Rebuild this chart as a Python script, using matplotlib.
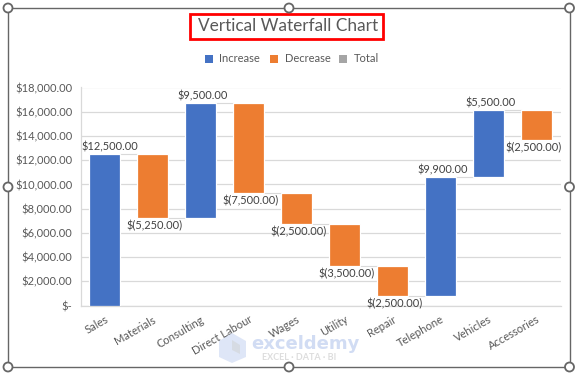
import matplotlib
matplotlib.use("Agg")
import matplotlib.pyplot as plt
from matplotlib.patches import Rectangle, Circle, Polygon
from matplotlib.ticker import FuncFormatter

categories = ["Sales", "Materials", "Consulting", "Direct Labour", "Wages",
              "Utility", "Repair", "Telephone", "Vehicles", "Accessories"]
changes = [12500, -5250, 9500, -7500, -2500, -3500, -2500, 9900, 5500, -2500]
y_ticks = [0, 2000, 4000, 6000, 8000, 10000, 12000, 14000, 16000, 18000]
BLUE, ORANGE, GREY = "#4472C4", "#ED7D31", "#A5A5A5"
TXT = "#595959"
plt.rcParams["font.family"] = ["Lato", "DejaVu Sans"]

W, H = 580, 379
fig = plt.figure(figsize=(W / 100, H / 100), dpi=100, facecolor="white")

# overlay in pixel coordinates for selection frame etc.
bg = fig.add_axes([0, 0, 1, 1], zorder=0)
bg.set_xlim(0, W); bg.set_ylim(H, 0); bg.axis("off")

ax = fig.add_axes([80.5 / W, 1 - 305.5 / H, 480 / W, 218 / H], zorder=1)
ax.patch.set_alpha(0)
ax.set_xlim(-0.5, 9.5)
ax.set_ylim(0, 18000)

# horizontal label shift in points (first and last label sit off-centre)
label_shift = {0: 3.6, 9: -2.2}

running = 0
levels = []
for i, (cat, c) in enumerate(zip(categories, changes)):
    start, end = running, running + c
    low, high = min(start, end), max(start, end)
    ax.bar(i, high - low, bottom=low, width=0.665, color=BLUE if c > 0 else ORANGE,
           edgecolor="white", linewidth=0.9, zorder=3)
    amount = f"${c:,.2f}" if c > 0 else f"$({-c:,.2f})"
    dx = label_shift.get(i, 1.4)
    if c > 0:
        ax.annotate(amount, (i, high), xytext=(dx, 1), textcoords="offset points",
                    ha="center", va="bottom", fontsize=7.9, color="#404040", zorder=4)
    else:
        ax.annotate(amount, (i, low), xytext=(dx, -1.5), textcoords="offset points",
                    ha="center", va="top", fontsize=7.9, color="#404040", zorder=4)
    levels.append(end)
    running = end

for i, lv in enumerate(levels[:-1]):
    ax.plot([i + 0.33, i + 1 - 0.33], [lv, lv], color="#D9D9D9", lw=0.8, zorder=2)

ax.set_yticks(y_ticks)
ax.yaxis.set_major_formatter(FuncFormatter(lambda v, _: "$-" if v == 0 else f"${v:,.2f}"))
ax.set_xticks(range(len(categories)))
ax.set_xticklabels(categories, rotation=30, ha="right", rotation_mode="anchor")
ax.tick_params(axis="y", length=0, pad=6, labelsize=8, labelcolor=TXT)
ax.tick_params(axis="x", length=0, pad=6, labelsize=8, labelcolor=TXT)
ax.grid(axis="y", color="#D9D9D9", lw=0.9, zorder=1)
ax.set_axisbelow(True)
for s in ("top", "right"):
    ax.spines[s].set_visible(False)
for s in ("left", "bottom"):
    ax.spines[s].set_color("#D9D9D9")
    ax.spines[s].set_linewidth(0.9)

# title and legend
bg.text(288, 26, "Vertical Waterfall Chart", ha="center", va="center", fontsize=12.4, color=TXT)
bg.add_patch(Rectangle((189.7, 13.6), 193, 25.7, fill=False, ec="#FF0000", lw=2, zorder=3))
for x, col, lab in [(205, BLUE, "Increase"), (270, ORANGE, "Decrease"), (339, GREY, "Total")]:
    bg.add_patch(Rectangle((x, 55), 8, 8, fc=col, ec="none"))
    bg.text(x + 14.5, 59, lab, ha="left", va="center", fontsize=8, color=TXT)

# selection frame
bg.add_patch(Rectangle((8, 8), 561.5, 359, fill=False, ec="#666666", lw=1.0, zorder=3))
top = fig.add_axes([0, 0, 1, 1], zorder=5)
top.set_xlim(0, W); top.set_ylim(H, 0); top.axis("off")
for x, y in [(8, 8), (289, 8), (569.5, 8), (8, 187), (569.5, 187),
             (8, 367), (289, 367), (569.5, 367)]:
    top.add_patch(Circle((x, y), 4.5, fc="white", ec="#666666", lw=1.3))

# watermark
top.add_patch(Polygon([(232, 333), (246, 341), (246, 357), (232, 363), (219, 357), (219, 341)],
                      fc="#C9D6F2", ec="none", alpha=0.6))
top.add_patch(Polygon([(232, 340), (240, 345), (240, 354), (232, 350)],
                      fc="#D5D9DE", ec="none", alpha=0.8))
top.text(251, 344, "exceldemy", fontsize=13, fontweight="bold", color="#C9D6F2", alpha=0.85,
         ha="left", va="center", family=["DejaVu Sans"])
top.text(262, 357, "EXCEL · DATA · BI", fontsize=6.5, fontweight="bold", color="#DDDDDD",
         ha="left", va="center")

fig.savefig("out.png", dpi=100)
